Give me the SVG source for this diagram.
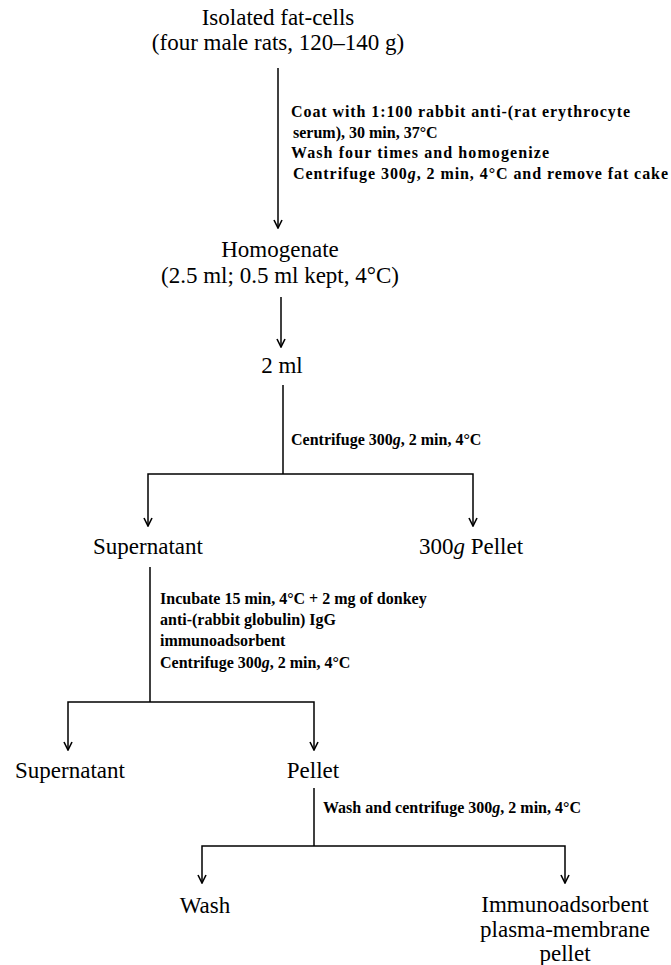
<svg xmlns="http://www.w3.org/2000/svg" width="671" height="965" viewBox="0 0 671 965">
<defs>
<marker id="ah" viewBox="0 0 10 10" refX="9" refY="5" markerWidth="10" markerHeight="10" markerUnits="userSpaceOnUse" orient="auto-start-reverse">
<path d="M1,1 L9,5 L1,9" fill="none" stroke="#000" stroke-width="1.6"/>
</marker>
<style>
.n{font-family:"Liberation Serif","Times New Roman",serif;font-size:23px;fill:#000}
.l{font-family:"Liberation Serif","Times New Roman",serif;font-size:16px;font-weight:bold;fill:#000}
.c{fill:none;stroke:#000;stroke-width:1.5}
.a{marker-end:url(#ah)}
</style>
</defs>
<rect width="671" height="965" fill="#fff"/>
<g id="connectors">
<line class="c a" x1="278" y1="68" x2="278" y2="228"/>
<line class="c a" x1="281" y1="297" x2="281" y2="347"/>
<line class="c" x1="283" y1="385" x2="283" y2="474"/>
<polyline class="c a" points="148,526 148,474 473,474 473,526" marker-start="url(#ah)"/>
<line class="c" x1="150" y1="567" x2="150" y2="702"/>
<polyline class="c a" points="68,750 68,702 314,702 314,750" marker-start="url(#ah)"/>
<line class="c" x1="314" y1="788" x2="314" y2="846"/>
<polyline class="c a" points="202,883 202,846 565,846 565,883" marker-start="url(#ah)"/>
<text class="l" x="291" y="117" textLength="339">Coat with 1:100 rabbit anti-(rat erythrocyte</text>
<text class="l" x="293" y="138">serum), 30 min, 37°C</text>
<text class="l" x="291" y="158" textLength="258">Wash four times and homogenize</text>
<text class="l" x="293" y="179" textLength="375">Centrifuge 300<tspan font-style="italic">g</tspan>, 2 min, 4°C and remove fat cake</text>
<text class="l" x="291" y="445">Centrifuge 300<tspan font-style="italic">g</tspan>, 2 min, 4°C</text>
<text class="l" x="160" y="604">Incubate 15 min, 4°C + 2 mg of donkey</text>
<text class="l" x="160" y="625">anti-(rabbit globulin) IgG</text>
<text class="l" x="160" y="646">immunoadsorbent</text>
<text class="l" x="160" y="668">Centrifuge 300<tspan font-style="italic">g</tspan>, 2 min, 4°C</text>
<text class="l" x="323" y="813">Wash and centrifuge 300<tspan font-style="italic">g</tspan>, 2 min, 4°C</text>
</g>
<g id="start"><text class="n" x="278" y="25" text-anchor="middle">Isolated fat-cells</text><text class="n" x="278" y="50" text-anchor="middle">(four male rats, 120–140 g)</text></g>
<g id="homogenate"><text class="n" x="280" y="257" text-anchor="middle">Homogenate</text><text class="n" x="280" y="283" text-anchor="middle">(2.5 ml; 0.5 ml kept, 4°C)</text></g>
<g id="twoml"><text class="n" x="282" y="373" text-anchor="middle">2 ml</text></g>
<g id="supernatant1"><text class="n" x="148" y="554" text-anchor="middle">Supernatant</text></g>
<g id="pellet300"><text class="n" x="471" y="554" text-anchor="middle">300<tspan font-style="italic">g</tspan> Pellet</text></g>
<g id="supernatant2"><text class="n" x="70" y="778" text-anchor="middle">Supernatant</text></g>
<g id="pellet"><text class="n" x="313" y="778" text-anchor="middle">Pellet</text></g>
<g id="wash"><text class="n" x="205" y="913" text-anchor="middle">Wash</text></g>
<g id="final"><text class="n" x="565" y="912" text-anchor="middle">Immunoadsorbent</text><text class="n" x="565" y="937" text-anchor="middle">plasma-membrane</text><text class="n" x="565" y="961" text-anchor="middle">pellet</text></g>
</svg>
